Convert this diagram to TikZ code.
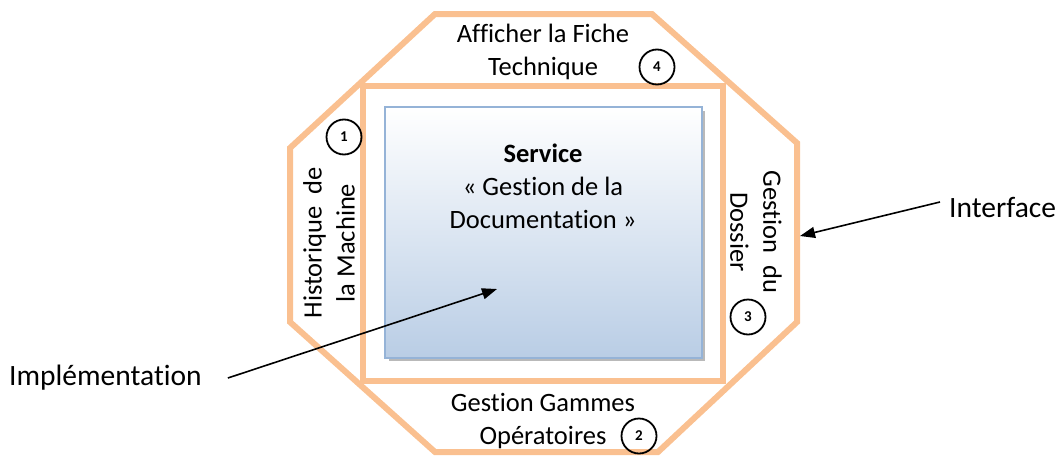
\documentclass[tikz,border=0pt]{standalone}
\usepackage{fontspec}
\setmainfont{Carlito}[Ligatures=NoCommon]
\usetikzlibrary{arrows.meta}
\definecolor{frameorange}{HTML}{FAC090}
\definecolor{boxedge}{HTML}{95B3D7}
\definecolor{boxbottom}{HTML}{B9CDE5}
\tikzset{
  frame/.style={draw=frameorange, line width=6pt, line join=miter},
  lbl/.style={font=\fontsize{26.5}{33}\selectfont, align=center, inner sep=0pt},
  side/.style={font=\fontsize{29.5}{33}\selectfont, inner sep=0pt, anchor=west},
  num/.style={draw=black, line width=1.8pt, circle, minimum size=35pt, inner sep=0pt,
              font=\fontsize{15}{15}\selectfont\bfseries},
  pointer/.style={draw=black, line width=1.6pt, -{Triangle[length=15pt,width=11pt]}},
}
\begin{document}
\begin{tikzpicture}[x=1pt,y=-1pt]
\useasboundingbox (0,0) rectangle (1059,455);
% outer octagon and inner frame
\draw[frame] (435,14) -- (652,14) -- (797,143) -- (797,322) -- (658,452)
  -- (435,452) -- (290,322) -- (290,148) -- cycle;
\draw[frame] (363,86) rectangle (723,381);
% service box with shadow
\fill[gray!55] (389,111) rectangle (705,361);
\shade[top color=white, bottom color=boxbottom] (385,107) rectangle (702,358);
\draw[boxedge, line width=1.6pt] (385,107) rectangle (702,358);
% labels
\node[lbl] (top) at (543,52) {Afficher la Fiche\\Technique};
\node[lbl] (bottom) at (543,421) {Gestion Gammes\\Opératoires};
\node[lbl] (service) at (543,186) {\textbf{Service}\\« Gestion de la\\Documentation »};
\node[lbl, rotate=90] (left) at (329,243) {Historique\hspace{12pt}de\\la Machine};
\node[lbl, rotate=-90] (right) at (756,232) {Gestion\hspace{12pt}du\\Dossier};
\node[side] (impl) at (9,378) {Implémentation};
\node[side] (iface) at (949,207) {Interface};
% numbered markers
\node[num] (n1) at (344,137) {1};
\node[num] (n2) at (639,436) {2};
\node[num] (n3) at (748,317) {3};
\node[num] (n4) at (657,67) {4};
% pointers
\coordinate (implend) at (497,289);
\coordinate (ifaceend) at (800,236);
\draw[pointer] ([xshift=26pt]impl.east) -- (implend);
\draw[pointer] ([xshift=-9pt,yshift=5pt]iface.west) -- (ifaceend);
\end{tikzpicture}
\end{document}
